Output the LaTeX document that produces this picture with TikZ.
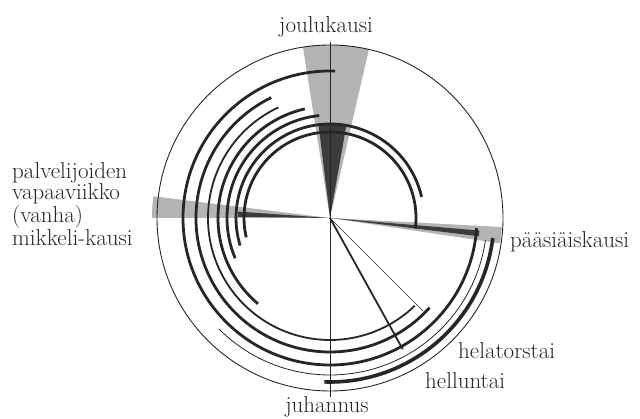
\documentclass[tikz,border=0pt]{standalone}
\usepackage{tikz}
\usetikzlibrary{calc,positioning,arrows.meta}
\definecolor{ink}{HTML}{262626}
\definecolor{greyband}{HTML}{B4B4B4}
\definecolor{darkband}{HTML}{3C3C3C}
\newcommand{\ringarc}[4]{\draw[#4] ($(c)+(#2:#1pt)$) arc[start angle=#2, end angle=#3, radius=#1pt];}

\begin{document}
\begin{tikzpicture}[x=1pt,y=1pt,
    every node/.style={font=\fontsize{23}{21}\selectfont, text=ink, inner sep=0pt},
    rim/.style={draw=ink, line width=0.9pt},
    band/.style={draw=ink, line width=2.8pt},
    midband/.style={draw=ink, line width=1.8pt},
    thinband/.style={draw=ink, line width=0.8pt},
    heavyband/.style={draw=ink, line width=3.6pt},
    spoke/.style={draw=ink, line width=0.9pt}
  ]
  \useasboundingbox (0,0) rectangle (640,419);
  \coordinate (c) at (330,201);

  \fill[greyband] (c) -- ($(c)+(77:173pt)$) arc[start angle=77, end angle=99, radius=173pt] -- cycle;
  \fill[darkband] (c) -- ($(c)+(80:95pt)$) arc[start angle=80, end angle=97, radius=95pt] -- cycle;
  \fill[greyband] (c) -- ($(c)+(173:178pt)$) arc[start angle=173, end angle=180, radius=178pt] -- cycle;
  \fill[darkband] (c) -- ($(c)+(176:92pt)$) arc[start angle=176, end angle=179.3, radius=92pt] -- cycle;
  \fill[greyband] (c) -- ($(c)+(-8.5:172pt)$) arc[start angle=-8.5, end angle=-3, radius=172pt] -- cycle;
  \fill[darkband] (c) -- ($(c)+(-7:150pt)$) arc[start angle=-7, end angle=-4.8, radius=150pt] -- cycle;

  \draw[rim] (c) circle[radius=173pt];

  \ringarc{147}{88}{356}{band}
  \ringarc{134}{116}{318}{band}
  \ringarc{122}{115}{314}{midband}
  \ringarc{112}{103}{230}{band}
  \ringarc{103}{96}{203}{band}
  \ringarc{94}{13}{197}{band}
  \ringarc{86}{-7}{193}{band}
  \ringarc{157}{225}{352}{thinband}
  \ringarc{164}{268}{353}{heavyband}

  \coordinate (jouluend) at ($(c)+(90:176pt)$);
  \coordinate (juhannusend) at ($(c)+(270:179pt)$);
  \coordinate (helaend) at ($(c)+(-45:132pt)$);
  \coordinate (helluntaiend) at ($(c)+(-61:150pt)$);
  \draw[spoke] (jouluend) -- (juhannusend);
  \draw[ink, line width=0.5pt] (c) -- (helaend);
  \draw[ink, line width=1.8pt] (c) -- (helluntaiend);

  \node (joulu) at (326,392) {joulukausi};
  \node[anchor=west, align=left] (palvelus) at (12,215) {palvelijoiden\\vapaaviikko\\(vanha)\\mikkeli-kausi};
  \node[anchor=west] (paasiainen) at (510,177.5) {pääsiäiskausi};
  \node[anchor=west] (hela) at (458,68.5) {helatorstai};
  \node[anchor=west] (helluntai) at (425,38.5) {helluntai};
  \node (juhannus) at (327,12.3) {juhannus};
\end{tikzpicture}
\end{document}
